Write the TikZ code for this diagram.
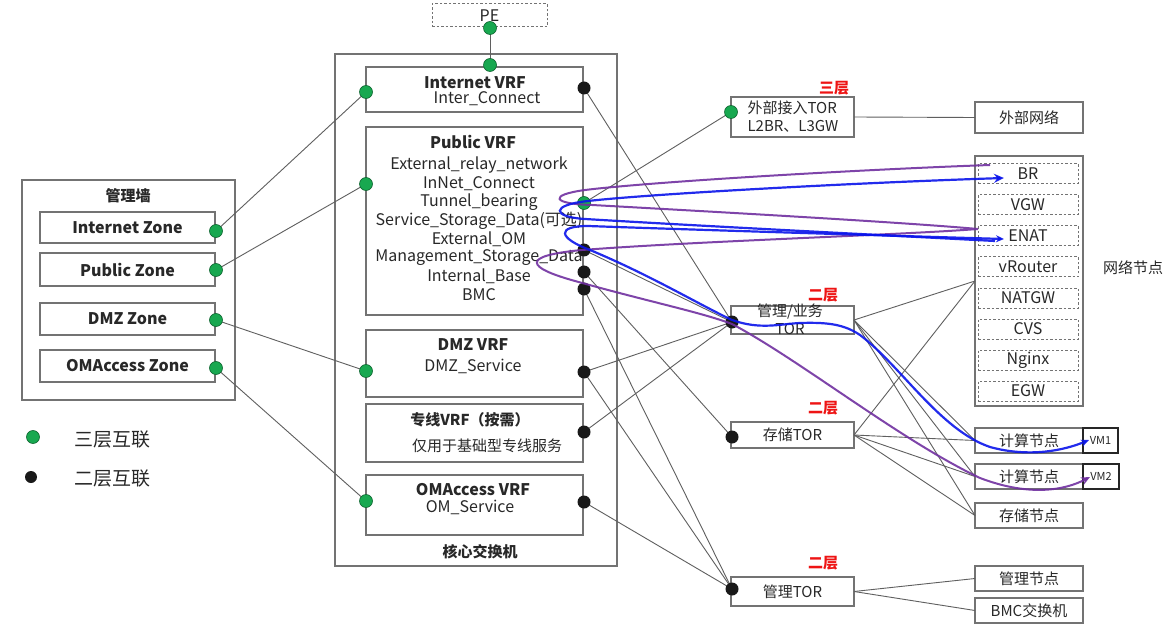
\documentclass[tikz,border=0pt]{standalone}
\usepackage{fontspec}
\setmainfont{Noto Sans CJK SC}
\usetikzlibrary{arrows.meta}
\definecolor{gdot}{RGB}{24,168,80}
\definecolor{kdot}{RGB}{25,25,25}
\definecolor{boxc}{RGB}{115,115,115}
\definecolor{linec}{RGB}{95,95,95}
\definecolor{bluep}{RGB}{10,20,235}
\definecolor{purp}{RGB}{112,48,160}
\definecolor{redt}{RGB}{238,20,20}
\definecolor{txt}{RGB}{40,40,40}
\tikzset{
 box/.style={draw=boxc, line width=1.2pt, inner sep=0pt, outer sep=0pt, text=txt},
 dbox/.style={draw=boxc, line width=1pt, dash pattern=on 2.5pt off 2pt, inner sep=0pt, outer sep=0pt, text=txt},
 vmbox/.style={draw=black!85, line width=2.2pt, inner sep=0pt, outer sep=0pt, font=\fontsize{11}{12}\selectfont, text=txt},
 gd/.style={circle, fill=gdot, draw=gdot!60!black, line width=0.6pt, minimum size=13pt, inner sep=0pt},
 kd/.style={circle, fill=kdot, minimum size=13pt, inner sep=0pt},
 conn/.style={draw=linec, line width=0.9pt},
 lat/.style={font=\fontsize{16}{18}\selectfont, text=txt},
 latb/.style={font=\fontsize{16}{18}\selectfont\bfseries, text=txt},
 cjk/.style={font=\fontsize{15}{18}\selectfont, text=txt},
 cjkb/.style={font=\fontsize{15}{18}\selectfont\bfseries, text=txt},
 layer/.style={font=\fontsize{15}{18}\selectfont\bfseries, text=redt},
 leg/.style={font=\fontsize{19}{22}\selectfont, text=txt},
 bluec/.style={draw=bluep, line width=2.2pt, opacity=0.9},
 purc/.style={draw=purp, line width=2pt, opacity=0.9},
}
\begin{document}
\begin{tikzpicture}[x=1pt,y=-1pt]
\useasboundingbox (0,0) rectangle (1172,628);
\fill[white] (0,0) rectangle (1172,628);

% ---------- left: management wall ----------
\node[box, minimum width=213, minimum height=220] (mw) at (128.5,290) {};
\node[cjkb] (mwt) at (128,196) {管理墙};
\node[box, latb, minimum width=175, minimum height=31] (iz) at (127.5,227.5) {Internet Zone};
\node[box, latb, minimum width=175, minimum height=33] (pz) at (127.5,269.5) {Public Zone};
\node[box, latb, minimum width=175, minimum height=32] (dz) at (127.5,319) {DMZ Zone};
\node[box, latb, minimum width=175, minimum height=32] (oz) at (127.5,366) {OMAccess Zone};

% legend
\node[gd] (lg1) at (33,437) {};
\node[leg] (lt1) at (112,440) {三层互联};
\node[kd, minimum size=12pt] (lg2) at (31,477) {};
\node[leg] (lt2) at (112,479) {二层互联};

% ---------- core switch ----------
\node[dbox, lat, minimum width=115, minimum height=23] (pe) at (489.5,15.5) {PE};
\node[box, minimum width=282, minimum height=512] (core) at (476,310) {};
\node[cjkb] (coret) at (480,552) {核心交换机};

\node[box, minimum width=217, minimum height=45] (ivrf) at (474.5,89.5) {};
\node[latb] (ivt) at (475,83) {Internet VRF};
\node[lat] (ivs) at (487,99) {Inter\_Connect};

\node[box, minimum width=217, minimum height=188] (pvrf) at (474.5,221) {};
\node[latb] (pvt) at (473,142) {Public VRF};
\foreach \t [count=\i] in {External\_relay\_network, InNet\_Connect, Tunnel\_bearing, Service\_Storage\_Data(可选), External\_OM, Management\_Storage\_Data, Internal\_Base, BMC}
  \node[lat] (pv\i) at (479,{146.5+18.55*\i}) {\t};

\node[box, minimum width=217, minimum height=67] (dvrf) at (474.5,363.5) {};
\node[latb] (dvt) at (473,345) {DMZ VRF};
\node[lat] (dvs) at (473,366) {DMZ\_Service};

\node[box, minimum width=217, minimum height=58] (zvrf) at (474.5,433) {};
\node[cjkb] (zvt) at (470,420) {专线VRF（按需）};
\node[cjk] (zvs) at (487,446) {仅用于基础型专线服务};

\node[box, minimum width=217, minimum height=60] (ovrf) at (474.5,505) {};
\node[latb] (ovt) at (473,490) {OMAccess VRF};
\node[lat] (ovs) at (470,507) {OM\_Service};

% ---------- right side ----------
\node[box, minimum width=123, minimum height=40] (etor) at (792.5,117) {};
\node[cjk, align=left, anchor=west] (etort) at (744,117) {外部接入TOR\\L2BR、L3GW};
\node[layer] (l3) at (834,88) {三层};
\node[box, cjk, minimum width=108, minimum height=31] (ext) at (1029,117.5) {外部网络};

\node[box, minimum width=108, minimum height=250] (nn) at (1029,281) {};
\foreach \t [count=\i] in {BR, VGW, ENAT, vRouter, NATGW, CVS, Nginx, EGW}
  \node[dbox, lat, minimum width=100, minimum height=20] (nn\i) at (1028,{143+31*\i}) {\t};
\node[cjk] (nnt) at (1133,268) {网络节点};
\coordinate (nnL) at (975,281);

\node[box, minimum width=123, minimum height=28] (mtor) at (792.5,320) {};
\node[cjk, align=center] (mtort) at (790,319.5) {管理/业务\\TOR};
\node[layer] (l2a) at (823,295) {二层};
\node[box, cjk, minimum width=123, minimum height=26] (stor) at (792.5,435) {存储TOR};
\node[layer] (l2b) at (823,408) {二层};
\node[box, cjk, minimum width=123, minimum height=29] (gtor) at (792.5,591.5) {管理TOR};
\node[layer] (l2c) at (823,563) {二层};

\node[box, cjk, minimum width=108, minimum height=25] (c1) at (1029,440.5) {计算节点};
\node[vmbox, minimum width=35, minimum height=25] (vm1) at (1100.5,440.5) {VM1};
\node[box, cjk, minimum width=108, minimum height=25] (c2) at (1029,476.5) {计算节点};
\node[vmbox, minimum width=36, minimum height=25] (vm2) at (1101,476.5) {VM2};
\node[box, cjk, minimum width=108, minimum height=25] (sn) at (1029,515.5) {存储节点};
\node[box, cjk, minimum width=108, minimum height=25] (mn) at (1029,578.5) {管理节点};
\node[box, cjk, minimum width=108, minimum height=25] (bmc) at (1029,610.5) {BMC交换机};

% ---------- connectors ----------
\coordinate (izd) at (216,231);
\coordinate (pzd) at (216,270);
\coordinate (dzd) at (216,320);
\coordinate (ozd) at (216,368);
\coordinate (ped) at (490,28);
\coordinate (ivtop) at (490,65);
\coordinate (ivl) at (366,92);
\coordinate (ivr) at (584,88);
\coordinate (pvl) at (366,184);
\coordinate (pvg) at (584,203);
\coordinate (pvk1) at (584,250);
\coordinate (pvk2) at (584,272);
\coordinate (pvk3) at (584,289);
\coordinate (dvl) at (366,371);
\coordinate (dvr) at (584,372);
\coordinate (zvr) at (584,432);
\coordinate (ovl) at (366,501);
\coordinate (ovr) at (584,502);
\coordinate (etd) at (731,112);
\coordinate (mtd) at (732,322);
\coordinate (std) at (732,437);
\coordinate (gtd) at (732,589);

\draw[conn] (izd) -- (ivl);
\draw[conn] (pzd) -- (pvl);
\draw[conn] (dzd) -- (dvl);
\draw[conn] (ozd) -- (ovl);
\draw[conn] (ped) -- (ivtop);
\draw[conn] (ivr) -- (mtd);
\draw[conn] (pvg) -- (etd);
\draw[conn] (pvk1) -- (mtd);
\draw[conn] (pvk2) -- (std);
\draw[conn] (pvk3) -- (gtd);
\draw[conn] (dvr) -- (mtd);
\draw[conn] (dvr) -- (gtd);
\draw[conn] (zvr) -- (mtd);
\draw[conn] (ovr) -- (gtd);
\draw[conn] (etor.east) -- (ext.west);
\draw[conn] (mtor.east) -- (nnL);
\draw[conn] (stor.east) -- (nnL);
\draw[conn] (mtor.east) -- (c1.west);
\draw[conn] (mtor.east) -- (c2.west);
\draw[conn] (mtor.east) -- (sn.west);
\draw[conn] (stor.east) -- (c1.west);
\draw[conn] (stor.east) -- (c2.west);
\draw[conn] (stor.east) -- (sn.west);
\draw[conn] (gtor.east) -- (mn.west);
\draw[conn] (gtor.east) -- (bmc.west);

% ---------- dots ----------
\foreach \p in {izd,pzd,dzd,ozd,ped,ivtop,ivl,pvl,pvg,dvl,ovl,etd}
  \node[gd] (dot-\p) at (\p) {};
\foreach \p in {ivr,pvk1,pvk2,pvk3,dvr,zvr,ovr,mtd,std,gtd}
  \node[kd] (dot-\p) at (\p) {};

% ---------- flow curves ----------
\coordinate (brp) at (990,165);
\coordinate (brb) at (1004,178);
\coordinate (enb) at (1004,239);
\coordinate (vm1p) at (1089,440);
\coordinate (vm2p) at (1090,477);

\draw[purc, -{Stealth[length=9pt,width=8pt]}] (brp)
  .. controls (850,170) and (650,182) .. (585,190)
  .. controls (548,195) and (552,204) .. (592,205)
  .. controls (700,211) and (900,222) .. (978,229)
  .. controls (900,235) and (700,241) .. (582,250)
  .. controls (518,256) and (528,268) .. (575,281)
  .. controls (650,302) and (700,312) .. (732,324)
  .. controls (800,360) and (900,440) .. (980,478)
  .. controls (1030,497) and (1065,490) .. (vm2p);

\draw[bluec, -{Stealth[length=10pt,width=9pt]}] (995,241)
  .. controls (900,236) and (700,226) .. (585,219)
  .. controls (552,217) and (550,205) .. (588,201)
  .. controls (650,194) and (850,183) .. (brb);

\draw[bluec, {Stealth[length=8pt,width=7pt]}-{Stealth[length=8pt,width=7pt]}] (vm1p)
  .. controls (1065,450) and (1030,458) .. (990,447)
  .. controls (940,430) and (900,365) .. (860,335)
  .. controls (845,325) and (830,322) .. (800,323)
  .. controls (780,324) and (760,330) .. (732,320)
  .. controls (700,305) and (650,275) .. (590,250)
  .. controls (558,238) and (556,226) .. (588,226)
  .. controls (700,230) and (900,236) .. (enb);
\end{tikzpicture}
\end{document}
